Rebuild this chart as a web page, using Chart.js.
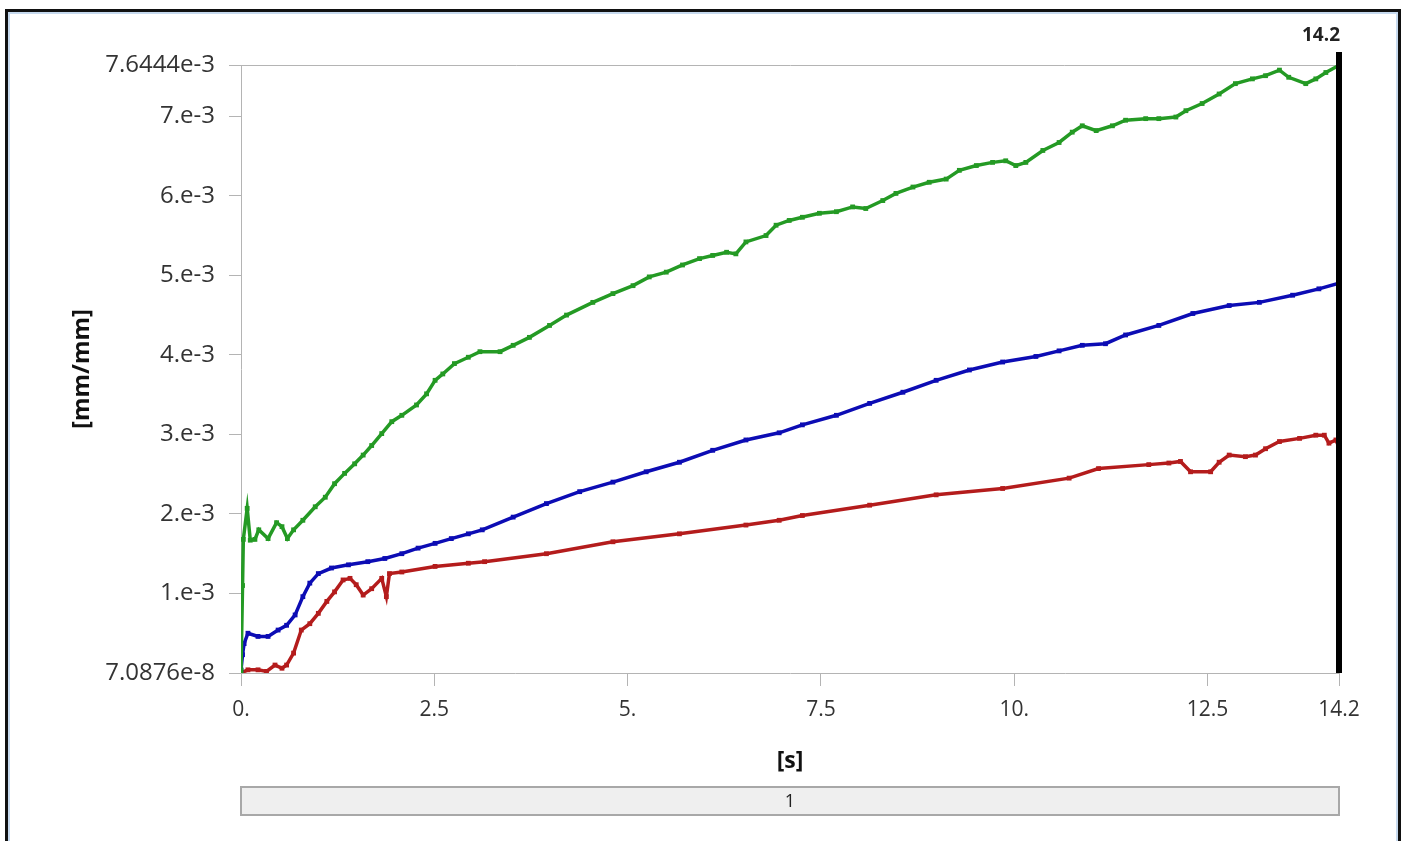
<!DOCTYPE html>
<html>
<head>
<meta charset="utf-8">
<title>Strain vs time</title>
<script src="https://cdn.jsdelivr.net/npm/chart.js@4.4.0/dist/chart.umd.min.js"></script>
<style>
    html, body { margin: 0; padding: 0; background: #fff; }
    body { width: 1405px; height: 841px; overflow: hidden; position: relative; }
    #frame {
        position: absolute; left: 5px; top: 9px; width: 1390px; height: 900px;
        border: 3px solid #111; box-shadow: inset 0 0 0 2px #c6d9ee;
    }
    #chart { position: absolute; left: 0; top: 0; }
</style>
</head>
<body>
<div id="frame"></div>
<canvas id="chart" width="1405" height="841"></canvas>
<script>
// time [s] and strain values (in 1e-3 mm/mm)
const greenTime = [0, 0.02, 0.03, 0.08, 0.12, 0.18, 0.23, 0.35, 0.46, 0.53, 0.60, 0.68, 0.80, 0.96, 1.09, 1.21, 1.34, 1.47, 1.58, 1.69, 1.82, 1.95, 2.08, 2.27, 2.40, 2.51, 2.61, 2.76, 2.94, 3.09, 3.35, 3.52, 3.73, 3.99, 4.21, 4.55, 4.81, 5.07, 5.28, 5.50, 5.71, 5.93, 6.10, 6.28, 6.40, 6.53, 6.79, 6.92, 7.09, 7.26, 7.48, 7.70, 7.91, 8.08, 8.30, 8.47, 8.69, 8.90, 9.12, 9.29, 9.51, 9.72, 9.89, 10.02, 10.15, 10.37, 10.58, 10.75, 10.88, 11.06, 11.27, 11.44, 11.70, 11.87, 12.09, 12.22, 12.43, 12.65, 12.86, 13.08, 13.25, 13.43, 13.55, 13.77, 13.90, 14.03, 14.2];
const greenStrain = [0.03, 1.10, 1.68, 2.07, 1.67, 1.68, 1.80, 1.69, 1.89, 1.84, 1.69, 1.80, 1.92, 2.09, 2.21, 2.38, 2.51, 2.63, 2.74, 2.86, 3.01, 3.16, 3.24, 3.37, 3.51, 3.68, 3.76, 3.89, 3.97, 4.04, 4.04, 4.12, 4.22, 4.37, 4.50, 4.66, 4.77, 4.87, 4.98, 5.04, 5.13, 5.21, 5.25, 5.29, 5.27, 5.42, 5.50, 5.63, 5.69, 5.73, 5.78, 5.80, 5.86, 5.84, 5.94, 6.03, 6.11, 6.17, 6.21, 6.32, 6.38, 6.42, 6.44, 6.38, 6.42, 6.57, 6.67, 6.80, 6.88, 6.82, 6.88, 6.95, 6.97, 6.97, 6.99, 7.07, 7.16, 7.28, 7.41, 7.47, 7.51, 7.58, 7.49, 7.41, 7.47, 7.55, 7.64];

const blueTime = [0, 0.02, 0.04, 0.09, 0.22, 0.35, 0.48, 0.59, 0.70, 0.80, 0.89, 1.00, 1.17, 1.39, 1.64, 1.86, 2.08, 2.29, 2.51, 2.72, 2.94, 3.12, 3.52, 3.95, 4.38, 4.81, 5.24, 5.67, 6.10, 6.53, 6.96, 7.26, 7.70, 8.13, 8.56, 8.99, 9.42, 9.85, 10.28, 10.58, 10.88, 11.18, 11.44, 11.87, 12.31, 12.78, 13.17, 13.60, 13.94, 14.2];
const blueStrain = [0.04, 0.23, 0.37, 0.50, 0.46, 0.46, 0.54, 0.60, 0.73, 0.96, 1.13, 1.25, 1.32, 1.36, 1.40, 1.44, 1.50, 1.57, 1.63, 1.69, 1.75, 1.80, 1.96, 2.13, 2.28, 2.40, 2.53, 2.65, 2.80, 2.93, 3.02, 3.12, 3.24, 3.39, 3.53, 3.68, 3.81, 3.91, 3.98, 4.05, 4.12, 4.14, 4.25, 4.37, 4.52, 4.62, 4.66, 4.75, 4.83, 4.90];

const redTime = [0, 0.09, 0.22, 0.33, 0.44, 0.53, 0.59, 0.68, 0.78, 0.89, 1.00, 1.11, 1.21, 1.32, 1.41, 1.49, 1.58, 1.69, 1.82, 1.88, 1.92, 2.08, 2.51, 2.94, 3.15, 3.95, 4.81, 5.67, 6.53, 6.96, 7.26, 8.13, 8.99, 9.85, 10.71, 11.09, 11.74, 12.0, 12.15, 12.28, 12.54, 12.65, 12.78, 12.99, 13.12, 13.25, 13.43, 13.69, 13.90, 14.01, 14.07, 14.16, 14.2];
const redStrain = [0.0, 0.04, 0.04, 0.02, 0.10, 0.06, 0.10, 0.25, 0.54, 0.62, 0.75, 0.90, 1.02, 1.17, 1.19, 1.11, 0.98, 1.06, 1.19, 0.96, 1.25, 1.27, 1.34, 1.38, 1.40, 1.50, 1.65, 1.75, 1.86, 1.92, 1.98, 2.11, 2.24, 2.32, 2.45, 2.57, 2.62, 2.64, 2.66, 2.53, 2.53, 2.65, 2.74, 2.72, 2.74, 2.82, 2.91, 2.95, 2.99, 2.99, 2.89, 2.93, 2.84];

const xTickValues = [0, 2.5, 5, 7.5, 10, 12.5, 14.2];
const xTickLabels = ['0.', '2.5', '5.', '7.5', '10.', '12.5', '14.2'];
const yTickValues = [7.0876e-8, 1e-3, 2e-3, 3e-3, 4e-3, 5e-3, 6e-3, 7e-3, 7.6444e-3];
const yTickLabels = ['7.0876e-8', '1.e-3', '2.e-3', '3.e-3', '4.e-3', '5.e-3', '6.e-3', '7.e-3', '7.6444e-3'];

const yMin = yTickValues[0];
const yMax = yTickValues[yTickValues.length - 1];
const xMax = xTickValues[xTickValues.length - 1];

function toPoints(times, strains) {
    return times.map((t, i) => ({ x: t, y: strains[i] * 1e-3 }));
}

function makeSet(label, times, strains, color) {
    return {
        label,
        data: toPoints(times, strains),
        borderColor: color,
        backgroundColor: color,
        borderWidth: 3.5,
        pointStyle: 'rect',
        pointRadius: 3.4,
        pointBorderWidth: 0,
        tension: 0
    };
}

const axisGray = '#b4b4b4';
const textFont = "'Open Sans', 'Noto Sans', sans-serif";

const overlay = {
    id: 'overlay',
    afterDatasetsDraw(chart) {
        const { ctx, chartArea, scales } = chart;
        const xp = scales.x.getPixelForValue(xMax);
        ctx.save();
        ctx.strokeStyle = '#000';
        ctx.lineWidth = 6;
        ctx.beginPath();
        ctx.moveTo(xp, 52);
        ctx.lineTo(xp, chartArea.bottom);
        ctx.stroke();
        ctx.fillStyle = '#222';
        ctx.font = "bold 19px " + textFont;
        ctx.textAlign = 'right';
        ctx.textBaseline = 'middle';
        ctx.fillText('14.2', xp + 1, 36);
        ctx.restore();
    },
    afterDraw(chart) {
        const { ctx, chartArea } = chart;
        const top = 787, h = 28;
        ctx.save();
        ctx.fillStyle = '#efefef';
        ctx.fillRect(chartArea.left, top, chartArea.right - chartArea.left, h);
        ctx.strokeStyle = '#a8a8a8';
        ctx.lineWidth = 2;
        ctx.strokeRect(chartArea.left, top, chartArea.right - chartArea.left, h);
        ctx.fillStyle = '#222';
        ctx.font = "18px " + textFont;
        ctx.textAlign = 'center';
        ctx.textBaseline = 'middle';
        ctx.fillText('1', (chartArea.left + chartArea.right) / 2, top + h / 2 + 1);
        ctx.restore();
    }
};

new Chart(document.getElementById('chart').getContext('2d'), {
    type: 'line',
    data: {
        datasets: [
            makeSet('green', greenTime, greenStrain, '#249a24'),
            makeSet('blue', blueTime, blueStrain, '#0c0cb4'),
            makeSet('red', redTime, redStrain, '#b41c1c')
        ]
    },
    options: {
        responsive: false,
        animation: false,
        layout: { padding: { left: 0, top: 65, right: 66, bottom: 0 } },
        plugins: { legend: { display: false }, tooltip: { enabled: false } },
        scales: {
            x: {
                type: 'linear',
                min: 0,
                max: xMax,
                afterBuildTicks: s => { s.ticks = xTickValues.map(v => ({ value: v })); },
                afterFit: s => { s.height = 168; },
                ticks: {
                    callback: (v, i) => xTickLabels[i],
                    autoSkip: false,
                    maxRotation: 0,
                    padding: 11,
                    color: '#333',
                    font: { family: textFont, size: 21 }
                },
                grid: { drawOnChartArea: false, drawTicks: true, tickLength: 13, tickColor: axisGray },
                border: { color: axisGray, width: 1 },
                title: {
                    display: true,
                    text: '[s]',
                    color: '#111',
                    font: { family: textFont, size: 23, weight: 'bold' },
                    padding: { top: 0, bottom: 66 }
                }
            },
            y: {
                type: 'linear',
                min: yMin,
                max: yMax,
                afterBuildTicks: s => { s.ticks = yTickValues.map(v => ({ value: v })); },
                afterFit: s => { s.width = 241; },
                ticks: {
                    callback: (v, i) => yTickLabels[i],
                    autoSkip: false,
                    padding: 14,
                    color: '#333',
                    font: { family: textFont, size: 24 }
                },
                grid: {
                    color: c => (c.tick && c.tick.value === yMax) ? axisGray : 'rgba(0,0,0,0)',
                    tickColor: axisGray,
                    tickLength: 12
                },
                border: { color: axisGray, width: 1 },
                title: {
                    display: true,
                    text: '[mm/mm]',
                    color: '#111',
                    font: { family: textFont, size: 24, weight: 'bold' },
                    padding: { top: 68, bottom: 0 }
                }
            }
        }
    },
    plugins: [overlay]
});
</script>
</body>
</html>
